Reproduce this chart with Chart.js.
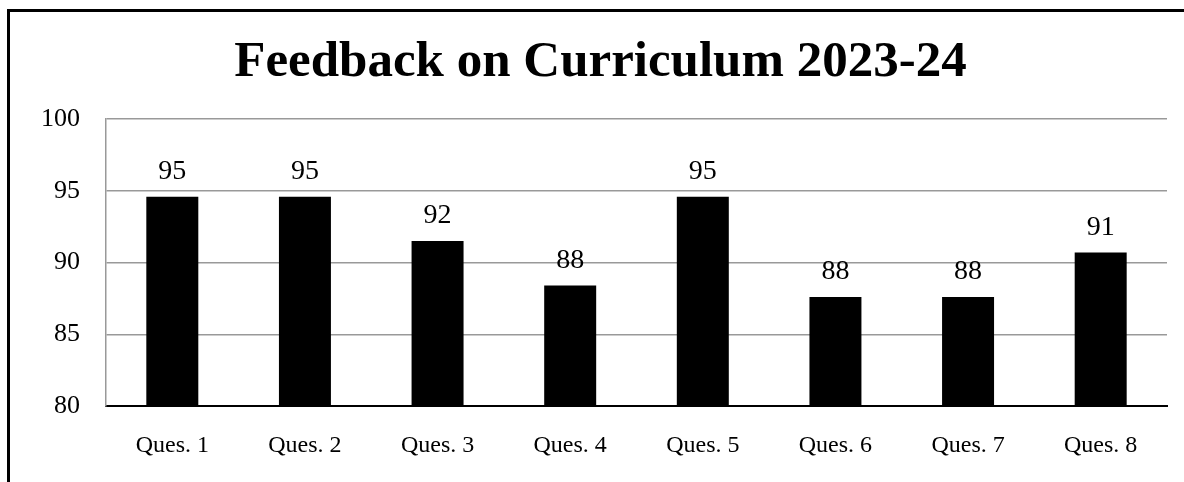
<!DOCTYPE html>
<html>
<head>
<meta charset="utf-8">
<title>Feedback on Curriculum 2023-24</title>
<script src="https://cdn.jsdelivr.net/npm/chart.js@4"></script>
<style>
  html, body { margin: 0; padding: 0; background: #fff; overflow: hidden; }
  #wrap { position: relative; width: 1184px; height: 482px; overflow: hidden; }
  #frame {
    position: absolute; left: 7px; top: 9px;
    width: 1300px; height: 600px;
    border-left: 3px solid #000;
    border-top: 3px solid #000;
  }
  #chart { position: absolute; left: 0; top: 0; }
</style>
</head>
<body>
<div id="wrap">
  <div id="frame"></div>
  <canvas id="chart" width="1184" height="482"></canvas>
</div>
<script>
// chart data
var questions = ['Ques. 1', 'Ques. 2', 'Ques. 3', 'Ques. 4', 'Ques. 5', 'Ques. 6', 'Ques. 7', 'Ques. 8'];
var scores = [94.6, 94.6, 91.5, 88.4, 94.6, 87.6, 87.6, 90.7];
var yTicks = [80, 85, 90, 95, 100];

Chart.defaults.font.family = '"Liberation Serif", "Times New Roman", serif';
Chart.defaults.color = '#000';

//
// Draws the rounded value above each bar
//
var valueLabels = {
  id: 'valueLabels',
  afterDatasetsDraw: function (chart) {
    var ctx = chart.ctx;
    var meta = chart.getDatasetMeta(0);
    ctx.save();
    ctx.font = '28px "Liberation Serif", serif';
    ctx.fillStyle = '#000';
    ctx.textAlign = 'center';
    ctx.textBaseline = 'alphabetic';
    meta.data.forEach(function (bar, i) {
      ctx.fillText(Math.round(scores[i]).toString(), bar.x, bar.y - 18);
    });
    ctx.restore();
  }
};

var ctx = document.getElementById('chart').getContext('2d');

new Chart(ctx, {
  type: 'bar',
  data: {
    labels: questions,
    datasets: [{
      data: scores,
      backgroundColor: '#000',
      borderWidth: 0,
      barPercentage: 0.392,
      categoryPercentage: 1
    }]
  },
  options: {
    responsive: false,
    animation: false,
    // left padding keeps the title centred like the original
    layout: { padding: { left: 34, right: 17, top: 0, bottom: 0 } },
    plugins: {
      legend: { display: false },
      tooltip: { enabled: false },
      title: {
        display: true,
        text: 'Feedback on Curriculum 2023-24',
        color: '#000',
        font: { size: 51, weight: 'bold' },
        padding: { top: 32.5, bottom: 25.5 }
      }
    },
    scales: {
      x: {
        grid: { display: false, drawTicks: false },
        border: { color: '#000', width: 2 },
        ticks: { font: { size: 24 }, padding: 25, maxRotation: 0 },
        afterFit: function (scale) { scale.height = 76; }
      },
      y: {
        min: 80,
        max: 100,
        afterBuildTicks: function (scale) {
          scale.ticks = yTicks.map(function (v) { return { value: v }; });
        },
        grid: { color: '#999', lineWidth: 1.5, drawTicks: false },
        border: { color: '#999', width: 1.5 },
        ticks: { font: { size: 26 }, padding: 26 },
        afterFit: function (scale) { scale.width = 72; }
      }
    }
  },
  plugins: [valueLabels]
});
</script>
</body>
</html>
